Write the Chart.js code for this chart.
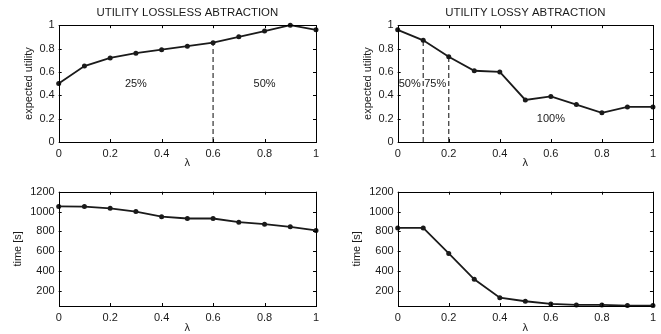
<!DOCTYPE html>
<html>
<head>
<meta charset="utf-8">
<script src="https://cdn.jsdelivr.net/npm/chart.js@4.4.0/dist/chart.umd.min.js"></script>
<style>
    html, body { margin: 0; padding: 0; background: #fff; overflow: hidden; }
    .panel { position: absolute; }
</style>
</head>
<body>
<div class="panel" style="left:0px;top:0px"><canvas id="losslessUtility" width="330" height="170"></canvas></div>
<div class="panel" style="left:330px;top:0px"><canvas id="lossyUtility" width="331" height="170"></canvas></div>
<div class="panel" style="left:0px;top:170px"><canvas id="losslessTime" width="330" height="164"></canvas></div>
<div class="panel" style="left:330px;top:170px"><canvas id="lossyTime" width="331" height="164"></canvas></div>
<script>
const lambdas = [0, 0.1, 0.2, 0.3, 0.4, 0.5, 0.6, 0.7, 0.8, 0.9, 1];
const losslessUtility = [0.50, 0.65, 0.72, 0.76, 0.79, 0.82, 0.85, 0.90, 0.95, 1.00, 0.96];
const lossyUtility = [0.96, 0.87, 0.73, 0.61, 0.60, 0.36, 0.39, 0.32, 0.25, 0.30, 0.30];
const losslessTime = [1052, 1050, 1033, 1000, 948, 930, 930, 893, 873, 846, 810];
const lossyTime = [835, 835, 578, 318, 133, 97, 70, 60, 60, 53, 53];

const lambdaTicks = [0, 0.2, 0.4, 0.6, 0.8, 1];
const utilityTicks = [0, 0.2, 0.4, 0.6, 0.8, 1];
const timeTicks = [200, 400, 600, 800, 1000, 1200];

const losslessSplits = [0.6];
const lossySplits = [0.1, 0.2];
const losslessLabels = ['25%', '50%'];
const losslessLabelX = [0.3, 0.8];
const losslessLabelY = [0.5, 0.5];
const lossyLabels = ['50%', '75%', '100%'];
const lossyLabelX = [0.047, 0.147, 0.6];
const lossyLabelY = [0.5, 0.5, 0.2];

const FONT = { family: 'Liberation Sans, Arial, sans-serif', size: 11 };
const INK = '#1a1a1a';

// matlab-like box, inward ticks, dashed splits and region labels
const matlabFrame = {
    id: 'matlabFrame',
    beforeDatasetsDraw(chart, args, opts) {
        const ctx = chart.ctx;
        const xs = chart.scales.x, ys = chart.scales.y;
        ctx.save();
        ctx.strokeStyle = '#333';
        ctx.lineWidth = 1.2;
        ctx.setLineDash([5, 3]);
        (opts.splits || []).forEach(s => {
            const idx = lambdas.indexOf(s);
            const px = xs.getPixelForValue(s);
            ctx.beginPath();
            ctx.moveTo(px, ys.getPixelForValue(ys.min));
            ctx.lineTo(px, ys.getPixelForValue(opts.values[idx]));
            ctx.stroke();
        });
        ctx.setLineDash([]);
        ctx.fillStyle = INK;
        ctx.font = `${FONT.size}px ${FONT.family}`;
        ctx.textAlign = 'center';
        ctx.textBaseline = 'middle';
        (opts.labels || []).forEach((t, i) => {
            ctx.fillText(t, xs.getPixelForValue(opts.labelX[i]), ys.getPixelForValue(opts.labelY[i]));
        });
        ctx.restore();
    },
    afterDraw(chart) {
        const ctx = chart.ctx;
        const a = chart.chartArea;
        const xs = chart.scales.x, ys = chart.scales.y;
        const len = 3;
        ctx.save();
        ctx.strokeStyle = '#000';
        ctx.lineWidth = 1;
        ctx.beginPath();
        xs.ticks.forEach(t => {
            const px = Math.round(xs.getPixelForValue(t.value)) + 0.5;
            ctx.moveTo(px, a.bottom); ctx.lineTo(px, a.bottom - len);
            ctx.moveTo(px, a.top); ctx.lineTo(px, a.top + len);
        });
        ys.ticks.forEach(t => {
            const py = Math.round(ys.getPixelForValue(t.value)) + 0.5;
            ctx.moveTo(a.left, py); ctx.lineTo(a.left + len, py);
            ctx.moveTo(a.right, py); ctx.lineTo(a.right - len, py);
        });
        ctx.stroke();
        ctx.strokeRect(Math.round(a.left) + 0.5, Math.round(a.top) + 0.5,
            Math.round(a.right - a.left), Math.round(a.bottom - a.top));
        ctx.restore();
    }
};

function makePanel(id, cfg) {
    const ctx = document.getElementById(id).getContext('2d');
    return new Chart(ctx, {
        type: 'line',
        data: {
            datasets: [{
                data: lambdas.map((x, i) => ({ x: x, y: cfg.values[i] })),
                borderColor: INK,
                borderWidth: 1.8,
                pointRadius: 2.5,
                pointBackgroundColor: INK,
                pointBorderWidth: 0,
                tension: 0,
                clip: false
            }]
        },
        options: {
            responsive: false,
            animation: false,
            layout: { padding: cfg.padding },
            plugins: {
                legend: { display: false },
                tooltip: { enabled: false },
                title: {
                    display: !!cfg.title,
                    text: cfg.title,
                    fullSize: false,
                    color: INK,
                    font: { ...FONT, size: 11.4, weight: 'normal' },
                    padding: { top: 6.2, bottom: 5.3 }
                },
                matlabFrame: {
                    values: cfg.values,
                    splits: cfg.splits,
                    labels: cfg.labels,
                    labelX: cfg.labelX,
                    labelY: cfg.labelY
                }
            },
            scales: {
                x: {
                    type: 'linear',
                    min: 0,
                    max: 1,
                    afterBuildTicks: s => { s.ticks = lambdaTicks.map(v => ({ value: v })); },
                    afterFit: s => { s.height = 28; },
                    grid: { display: false, drawTicks: false },
                    border: { display: false },
                    ticks: {
                        padding: 5,
                        color: INK,
                        font: FONT,
                        maxRotation: 0,
                        callback: v => String(Math.round(v * 10) / 10)
                    },
                    title: {
                        display: true,
                        text: 'λ',
                        color: INK,
                        font: FONT,
                        padding: { top: 0, bottom: cfg.xTitlePad }
                    }
                },
                y: {
                    type: 'linear',
                    min: cfg.yMin,
                    max: cfg.yMax,
                    afterBuildTicks: s => { s.ticks = cfg.yTicks.map(v => ({ value: v })); },
                    afterFit: s => { s.width = 58.7; },
                    grid: { display: false, drawTicks: false },
                    border: { display: false },
                    ticks: {
                        padding: 4,
                        color: INK,
                        font: FONT,
                        callback: v => String(v)
                    },
                    title: {
                        display: true,
                        text: cfg.yTitle,
                        color: INK,
                        font: FONT,
                        padding: { top: cfg.yTitlePad, bottom: 0 }
                    }
                }
            }
        },
        plugins: [matlabFrame]
    });
}

makePanel('losslessUtility', {
    title: 'UTILITY LOSSLESS ABTRACTION',
    values: losslessUtility,
    yTicks: utilityTicks, yMin: 0, yMax: 1,
    yTitle: 'expected utility', yTitlePad: 22.4,
    xTitlePad: 0,
    padding: { left: 0, right: 14, top: 0, bottom: 0 },
    splits: losslessSplits,
    labels: losslessLabels, labelX: losslessLabelX, labelY: losslessLabelY
});

makePanel('lossyUtility', {
    title: 'UTILITY LOSSY ABTRACTION',
    values: lossyUtility,
    yTicks: utilityTicks, yMin: 0, yMax: 1,
    yTitle: 'expected utility', yTitlePad: 22.4,
    xTitlePad: 0,
    padding: { left: 9, right: 6, top: 0, bottom: 0 },
    splits: lossySplits,
    labels: lossyLabels, labelX: lossyLabelX, labelY: lossyLabelY
});

makePanel('losslessTime', {
    title: '',
    values: losslessTime,
    yTicks: timeTicks, yMin: 49, yMax: 1200,
    yTitle: 'time [s]', yTitlePad: 10.9,
    xTitlePad: -1,
    padding: { left: 0, right: 14, top: 21.7, bottom: 0 }
});

makePanel('lossyTime', {
    title: '',
    values: lossyTime,
    yTicks: timeTicks, yMin: 49, yMax: 1200,
    yTitle: 'time [s]', yTitlePad: 10.9,
    xTitlePad: -1,
    padding: { left: 9, right: 6, top: 21.7, bottom: 0 }
});
</script>
</body>
</html>
